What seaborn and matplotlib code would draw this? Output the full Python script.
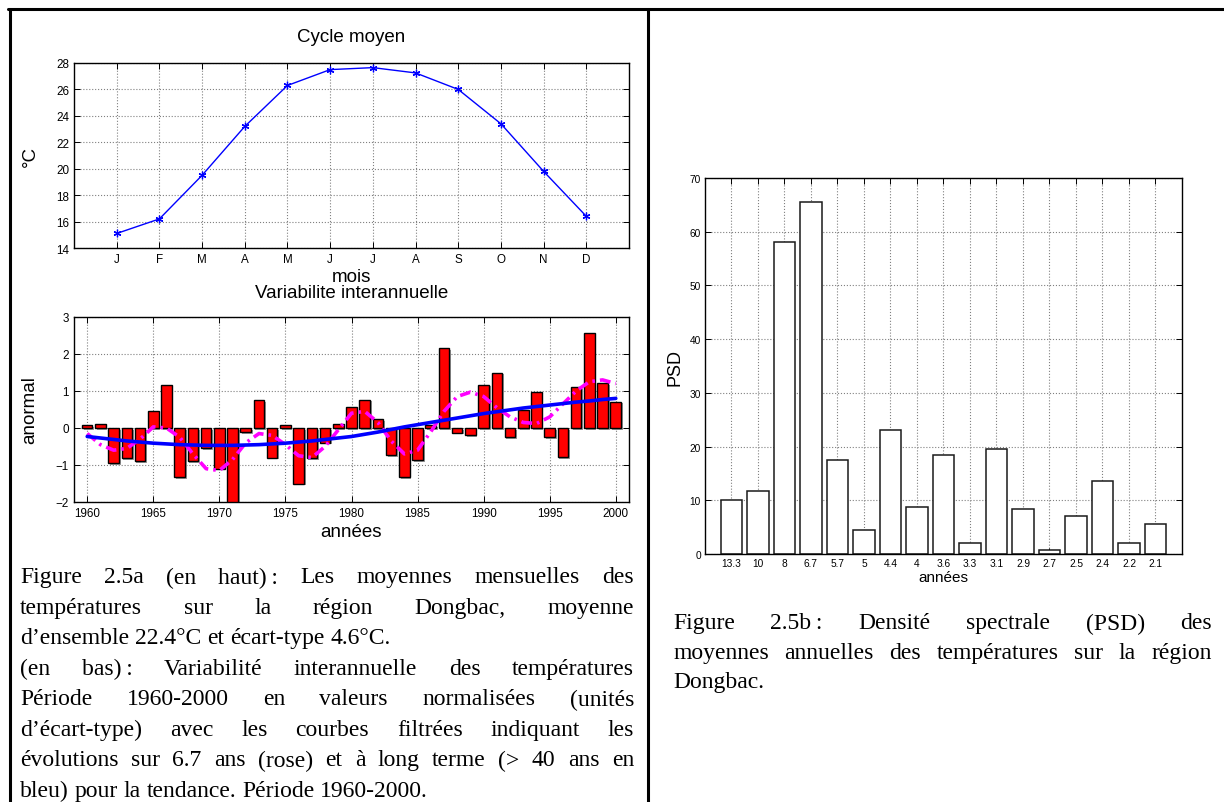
import numpy as np
import pandas as pd
import matplotlib
matplotlib.use("Agg")
import matplotlib.pyplot as plt
import matplotlib.patheffects as pe
from matplotlib.lines import Line2D
import seaborn as sns

# ---------------- data ----------------
months = ["J", "F", "M", "A", "M", "J", "J", "A", "S", "O", "N", "D"]
month_temp = [15.1, 16.2, 19.5, 23.2, 26.3, 27.5, 27.65, 27.25, 26.0, 23.4, 19.8, 16.4]

years = list(range(1960, 2001))
anomaly = [0.07, 0.12, -0.95, -0.82, -0.90, 0.46, 1.17, -1.33, -0.89, -0.55,
           -1.10, -2.05, -0.12, 0.75, -0.80, 0.08, -1.50, -0.82, -0.40, 0.12,
           0.56, 0.77, 0.23, -0.73, -1.33, -0.87, 0.07, 2.15, -0.13, -0.20,
           1.17, 1.50, -0.24, 0.49, 0.98, -0.24, -0.79, 1.10, 2.58, 1.22, 0.71]
filtered_67 = [-0.15, -0.45, -0.60, -0.55, -0.30, 0.03, 0.00, -0.25, -0.70, -1.10,
               -1.15, -0.85, -0.40, -0.15, -0.20, -0.45, -0.75, -0.80, -0.50, -0.05,
               0.40, 0.45, 0.15, -0.35, -0.70, -0.60, -0.10, 0.45, 0.85, 0.97,
               0.85, 0.55, 0.30, 0.15, 0.12, 0.30, 0.65, 1.00, 1.25, 1.30, 1.20]
trend = [-0.23, -0.27, -0.31, -0.35, -0.38, -0.41, -0.43, -0.45, -0.46, -0.47,
         -0.47, -0.47, -0.46, -0.45, -0.43, -0.41, -0.38, -0.35, -0.31, -0.27,
         -0.23, -0.17, -0.11, -0.04, 0.03, 0.09, 0.15, 0.21, 0.27, 0.33,
         0.39, 0.44, 0.49, 0.54, 0.58, 0.62, 0.66, 0.70, 0.73, 0.77, 0.80]

periods = ["13.3", "10", "8", "6.7", "5.7", "5", "4.4", "4", "3.6", "3.3",
           "3.1", "2.9", "2.7", "2.5", "2.4", "2.2", "2.1"]
psd = [10.0, 11.7, 58.0, 65.6, 17.5, 4.5, 23.0, 8.8, 18.4, 2.0,
       19.6, 8.3, 0.7, 7.0, 13.5, 2.1, 5.5]

left_caption = [
    "Figure 2.5a (en haut)\u2009: Les moyennes mensuelles des",
    "températures sur la région Dongbac, moyenne",
    "d’ensemble 22.4°C et écart-type 4.6°C.",
    "(en bas)\u2009: Variabilité interannuelle des températures",
    "Période 1960-2000 en valeurs normalisées (unités",
    "d’écart-type) avec les courbes filtrées indiquant les",
    "évolutions sur 6.7 ans (rose) et à long terme (> 40 ans en",
    "bleu) pour la tendance. Période 1960-2000.",
]
left_justify = [True, True, False, True, True, True, True, False]
right_caption = [
    "Figure 2.5b\u2009: Densité spectrale (PSD) des",
    "moyennes annuelles des températures sur la région",
    "Dongbac.",
]
right_justify = [True, True, False]

# ---------------- style ----------------
W, H = 1224, 803
sns.set_theme(style="white")
plt.rcParams["font.family"] = ["Liberation Sans", "DejaVu Sans"]
plt.rcParams["axes.edgecolor"] = "black"
plt.rcParams["axes.linewidth"] = 1.0

fig = plt.figure(figsize=(W / 100, H / 100), dpi=100)
fig.patch.set_facecolor("white")


def rect(x0, y0, x1, y1):
    return [x0 / W, 1 - y1 / H, (x1 - x0) / W, (y1 - y0) / H]


def style_ax(ax, labelsize, pad=3.5):
    ax.set_axisbelow(True)
    ax.grid(True, linestyle=":", color="#808080", linewidth=0.8)
    for s in ax.spines.values():
        s.set_visible(True)
        s.set_color("black")
        s.set_linewidth(1.0)
    ax.tick_params(direction="in", length=4, width=0.7, top=True, right=True,
                   bottom=True, left=True, labelsize=labelsize, colors="black",
                   pad=pad)


def place_label(ax, which, text, coord, size):
    if which == "x":
        ax.set_xlabel(text, fontsize=size, color="black")
        lab = ax.xaxis.label
        ax.xaxis.set_label_coords(0.5, coord)
    else:
        ax.set_ylabel(text, fontsize=size, color="black")
        lab = ax.yaxis.label
        ax.yaxis.set_label_coords(coord, 0.5)
    lab.set_rotation_mode("default")
    lab.set_va("center")
    lab.set_ha("center")


LX0, LX1 = 74, 629

# ---------------- top: Cycle moyen ----------------
t0, t1 = 64, 249
ax1 = fig.add_axes(rect(LX0, t0, LX1, t1))
xm = np.arange(1, 13)
sns.lineplot(x=xm, y=month_temp, ax=ax1, color="blue", linewidth=1.0,
             marker=(6, 2, 0), markersize=5.5, markeredgecolor="blue",
             markeredgewidth=0.9)
ax1.set_xlim(0, 13)
ax1.set_ylim(14, 28)
ax1.set_xticks(xm, months)
ax1.set_yticks(range(14, 29, 2))
style_ax(ax1, 8.4)
ax1.set_title("Cycle moyen", fontsize=13.5, color="black",
              y=1 + (t0 - 46) / (t1 - t0), va="center")
place_label(ax1, "x", "mois", -(278 - t1) / (t1 - t0), 13.5)
place_label(ax1, "y", "°C", (30 - LX0) / (LX1 - LX0), 13.5)

# ---------------- bottom: Variabilite interannuelle ----------------
b0, b1 = 318, 503
ax2 = fig.add_axes(rect(LX0, b0, LX1, b1))
df = pd.DataFrame({"year": years, "anom": anomaly})
sns.barplot(data=df, x="year", y="anom", native_scale=True, width=0.8,
            color="red", saturation=1, edgecolor="black", linewidth=1.0,
            errorbar=None, ax=ax2)
for p in ax2.patches:
    p.set_path_effects([pe.SimplePatchShadow(offset=(1.2, -1.2),
                                             shadow_rgbFace="0.6", alpha=1),
                        pe.Normal()])
sns.lineplot(x=years, y=filtered_67, ax=ax2, color="magenta", linewidth=2.6)
ax2.lines[-1].set_dashes([3, 1.4, 0.7, 1.4])
sns.lineplot(x=years, y=trend, ax=ax2, color="blue", linewidth=2.6)
ax2.set_xlim(1959, 2001)
ax2.set_ylim(-2, 3)
ax2.set_xticks(range(1960, 2001, 5))
ax2.set_xticklabels([str(y) for y in range(1960, 2001, 5)])
ax2.set_yticks(range(-2, 4))
style_ax(ax2, 8.4)
ax2.set_title("Variabilite interannuelle", fontsize=13.5, color="black",
              y=1 + (b0 - 302) / (b1 - b0), va="center")
place_label(ax2, "x", "années", -(533 - b1) / (b1 - b0), 13.5)
place_label(ax2, "y", "anormal", (30 - LX0) / (LX1 - LX0), 13.5)

# ---------------- right: PSD ----------------
r0, r1 = 179, 555
ax3 = fig.add_axes(rect(705, r0, 1182, r1))
dfp = pd.DataFrame({"period": periods, "psd": psd})
sns.barplot(data=dfp, x="period", y="psd", order=periods, width=0.8,
            color="white", saturation=1, edgecolor="#1a1a1a", linewidth=1.1,
            errorbar=None, ax=ax3)
ax3.set_xlim(-1, 17)
ax3.set_ylim(0, 70)
ax3.set_yticks(range(0, 71, 10))
style_ax(ax3, 7.3, pad=3)
place_label(ax3, "x", "années", -(578 - r1) / (r1 - r0), 11)
place_label(ax3, "y", "PSD", (675 - 705) / 477, 13)

# ---------------- page borders ----------------
lw_border = 2.2
fig.add_artist(Line2D([8 / W, 1], [1 - 10 / H, 1 - 10 / H], color="black",
                      linewidth=lw_border, transform=fig.transFigure))
fig.add_artist(Line2D([10 / W, 10 / W], [1 - 10 / H, 0], color="black",
                      linewidth=lw_border, transform=fig.transFigure))
fig.add_artist(Line2D([648 / W, 648 / W], [1 - 10 / H, 0], color="black",
                      linewidth=lw_border, transform=fig.transFigure))

# ---------------- captions (justified) ----------------
renderer = fig.canvas.get_renderer()
serif = ["Liberation Serif", "DejaVu Serif"]


def caption(lines, justify, x0, x1, y_first, spacing, size):
    probe1 = fig.text(0, 0, "a a", fontsize=size, family=serif)
    probe2 = fig.text(0, 0, "aa", fontsize=size, family=serif)
    space = (probe1.get_window_extent(renderer).width
             - probe2.get_window_extent(renderer).width)
    probe1.remove()
    probe2.remove()
    for i, (line, just) in enumerate(zip(lines, justify)):
        y = y_first + i * spacing
        words = line.split(" ")
        texts = [fig.text(0, 1 - y / H, w, fontsize=size, family=serif,
                          color="black", va="center", ha="left") for w in words]
        widths = [t.get_window_extent(renderer).width for t in texts]
        if just and len(words) > 1:
            gap = (x1 - x0 - sum(widths)) / (len(words) - 1)
        else:
            gap = space
        x = x0
        for t, w in zip(texts, widths):
            t.set_x(x / W)
            x += w + gap


caption(left_caption, left_justify, 20, 634, 578, 30.5, 17)
caption(right_caption, right_justify, 673, 1212, 624, 29.5, 17)

fig.savefig("out.png", dpi=100, facecolor="white")
